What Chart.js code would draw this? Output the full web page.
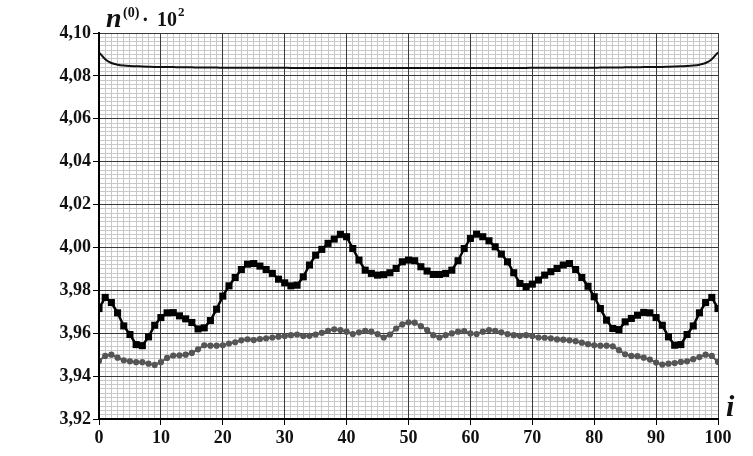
<!DOCTYPE html>
<html>
<head>
<meta charset="utf-8">
<script src="https://cdn.jsdelivr.net/npm/chart.js@4/dist/chart.umd.min.js"></script>
<style>
  html,body{margin:0;padding:0;background:#fff;}
  #wrap{position:relative;width:753px;height:456px;overflow:hidden;}
  canvas{position:absolute;left:0;top:0;}
  .t{position:absolute;font-family:'Liberation Serif',serif;font-weight:bold;line-height:1;white-space:nowrap;color:#111;}
</style>
</head>
<body>
<div id="wrap">
  <canvas id="c" width="753" height="456"></canvas>
  <span class="t" style="left:106px;top:4px;font-size:28px;font-style:italic;">n</span>
  <span class="t" style="left:123px;top:6px;font-size:14px;">(0)</span>
  <span class="t" style="left:142px;top:9px;font-size:20px;">·</span>
  <span class="t" style="left:157px;top:9px;font-size:20px;">10</span>
  <span class="t" style="left:178px;top:5px;font-size:13px;">2</span>
  <span class="t" style="left:726px;top:391px;font-size:30px;font-style:italic;">i</span>
</div>
<script>
// node indices (categories)
const indices = Array.from({length: 101}, (_, i) => i);

// upper curve
const topLine = [
  4.0910, 4.0878, 4.0860, 4.0852, 4.0848, 4.0846, 4.0845, 4.0844, 4.0843, 4.0842,
  4.0842, 4.0841, 4.0841, 4.0840, 4.0840, 4.0840, 4.0839, 4.0839, 4.0839, 4.0839,
  4.0838, 4.0838, 4.0838, 4.0838, 4.0838, 4.0838, 4.0838, 4.0838, 4.0838, 4.0838,
  4.0838, 4.0837, 4.0837, 4.0837, 4.0837, 4.0837, 4.0837, 4.0837, 4.0837, 4.0837,
  4.0837, 4.0837, 4.0837, 4.0837, 4.0837, 4.0837, 4.0837, 4.0837, 4.0837, 4.0837,
  4.0837, 4.0837, 4.0837, 4.0837, 4.0837, 4.0837, 4.0837, 4.0837, 4.0837, 4.0837,
  4.0837, 4.0837, 4.0837, 4.0837, 4.0837, 4.0837, 4.0837, 4.0837, 4.0837, 4.0837,
  4.0838, 4.0838, 4.0838, 4.0838, 4.0838, 4.0838, 4.0838, 4.0838, 4.0838, 4.0838,
  4.0838, 4.0839, 4.0839, 4.0839, 4.0839, 4.0840, 4.0840, 4.0840, 4.0841, 4.0841,
  4.0842, 4.0842, 4.0843, 4.0844, 4.0845, 4.0846, 4.0848, 4.0852, 4.0860, 4.0878,
  4.0910
];

// square markers series
const squareSeries = [
  3.9715, 3.9767, 3.9743, 3.9695, 3.9634, 3.9594, 3.9547, 3.9542, 3.9583, 3.9637,
  3.9673, 3.9695, 3.9696, 3.9681, 3.9667, 3.9650, 3.9620, 3.9625, 3.9659, 3.9712,
  3.9773, 3.9821, 3.9860, 3.9897, 3.9922, 3.9925, 3.9913, 3.9897, 3.9879, 3.9852,
  3.9835, 3.9821, 3.9824, 3.9863, 3.9918, 3.9964, 3.9991, 4.0019, 4.0039, 4.0061,
  4.0050, 3.9995, 3.9941, 3.9894, 3.9879, 3.9871, 3.9873, 3.9882, 3.9902, 3.9933,
  3.9941, 3.9938, 3.9910, 3.9890, 3.9874, 3.9874, 3.9879, 3.9894, 3.9938, 3.9995,
  4.0042, 4.0062, 4.0050, 4.0031, 4.0003, 3.9969, 3.9933, 3.9882, 3.9832, 3.9817,
  3.9829, 3.9848, 3.9871, 3.9887, 3.9902, 3.9918, 3.9925, 3.9897, 3.9860, 3.9819,
  3.9770, 3.9715, 3.9661, 3.9622, 3.9617, 3.9653, 3.9669, 3.9684, 3.9697, 3.9695,
  3.9673, 3.9637, 3.9583, 3.9544, 3.9547, 3.9594, 3.9634, 3.9695, 3.9743, 3.9767,
  3.9715
];

// circle markers series
const circleSeries = [
  3.9471, 3.9494, 3.9500, 3.9486, 3.9474, 3.9469, 3.9465, 3.9465, 3.9458, 3.9452,
  3.9465, 3.9485, 3.9496, 3.9497, 3.9500, 3.9508, 3.9525, 3.9544, 3.9542, 3.9542,
  3.9544, 3.9552, 3.9558, 3.9567, 3.9572, 3.9568, 3.9573, 3.9576, 3.9580, 3.9584,
  3.9587, 3.9591, 3.9594, 3.9587, 3.9588, 3.9594, 3.9602, 3.9611, 3.9618, 3.9615,
  3.9607, 3.9596, 3.9604, 3.9611, 3.9607, 3.9596, 3.9580, 3.9594, 3.9622, 3.9641,
  3.9651, 3.9649, 3.9633, 3.9615, 3.9591, 3.9580, 3.9591, 3.9599, 3.9607, 3.9610,
  3.9599, 3.9596, 3.9607, 3.9615, 3.9611, 3.9604, 3.9596, 3.9591, 3.9588, 3.9591,
  3.9587, 3.9580, 3.9579, 3.9576, 3.9571, 3.9570, 3.9567, 3.9563, 3.9556, 3.9549,
  3.9544, 3.9542, 3.9542, 3.9539, 3.9521, 3.9502, 3.9494, 3.9493, 3.9486, 3.9477,
  3.9463, 3.9454, 3.9458, 3.9461, 3.9466, 3.9469, 3.9479, 3.9489, 3.9500, 3.9494,
  3.9466
];

// axis settings
const xMin = 0, xMax = 100, xMajorStep = 10, xMinorStep = 1;
const yMin = 3.92, yMax = 4.10, yMajorStep = 0.02, yMinorStep = 0.002;

const pts = arr => indices.map((x, k) => ({x: x, y: arr[k]}));
const tickFont = {family: "'Liberation Serif', serif", size: 18, weight: 'bold'};

new Chart(document.getElementById('c'), {
  type: 'line',
  data: {
    datasets: [
      {data: pts(topLine), borderColor: '#111', borderWidth: 2, pointRadius: 0,
       cubicInterpolationMode: 'monotone', clip: 0},
      {data: pts(squareSeries), borderColor: '#000', borderWidth: 2.5,
       pointStyle: 'rect', pointRadius: 5, pointBackgroundColor: '#000',
       pointBorderWidth: 0, tension: 0, clip: 0},
      {data: pts(circleSeries), borderColor: '#5a5a5a', borderWidth: 2,
       pointStyle: 'circle', pointRadius: 3.1, pointBackgroundColor: '#555',
       pointBorderWidth: 0, tension: 0, clip: 0}
    ]
  },
  options: {
    responsive: false,
    animation: false,
    layout: {padding: {top: 33, right: 35, left: 0, bottom: 0}},
    plugins: {legend: {display: false}, tooltip: {enabled: false}},
    scales: {
      x: {type: 'linear', position: 'bottom', min: xMin, max: xMax,
          ticks: {display: false, stepSize: xMinorStep},
          grid: {color: '#c8c8c8', lineWidth: 1, drawTicks: false},
          border: {display: false},
          afterFit(s) { s.height = 0; }},
      y: {type: 'linear', position: 'left', min: yMin, max: yMax,
          ticks: {display: false, stepSize: yMinorStep},
          grid: {color: '#c8c8c8', lineWidth: 1, drawTicks: false},
          border: {display: false},
          afterFit(s) { s.width = 0; }},
      xM: {type: 'linear', position: 'bottom', min: xMin, max: xMax,
           ticks: {stepSize: xMajorStep, font: tickFont, color: '#111', padding: 3,
                   maxRotation: 0, autoSkip: false},
           grid: {color: '#3a3a3a', lineWidth: 1, z: 0, tickLength: 6, tickColor: '#000'},
           border: {color: '#000', width: 2, z: 1},
           afterFit(s) { s.height = 37; }},
      yM: {type: 'linear', position: 'left', min: yMin, max: yMax,
           ticks: {stepSize: yMajorStep, font: tickFont, color: '#111', padding: 2,
                   callback: v => v.toFixed(2).replace('.', ',')},
           grid: {color: '#3a3a3a', lineWidth: 1, z: 0, tickLength: 6, tickColor: '#000'},
           border: {color: '#000', width: 2, z: 1},
           afterFit(s) { s.width = 99; }}
    }
  }
});
</script>
</body>
</html>
